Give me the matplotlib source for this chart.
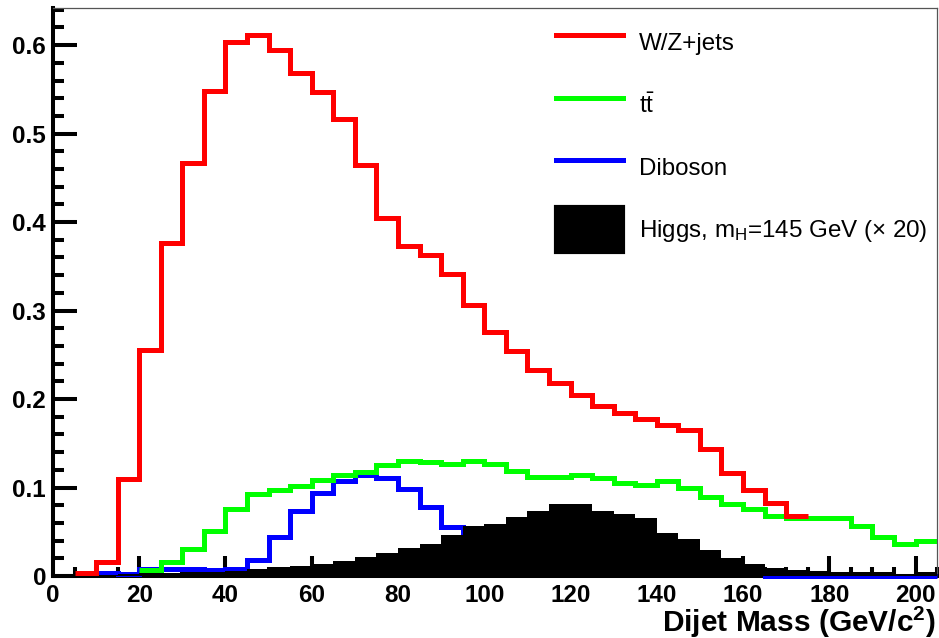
import numpy as np
import matplotlib.pyplot as plt
from matplotlib.lines import Line2D
from matplotlib.patches import Patch

plt.rcParams['font.family'] = ['Liberation Sans', 'DejaVu Sans']
plt.rcParams['mathtext.fontset'] = 'custom'
plt.rcParams['mathtext.rm'] = 'Liberation Sans'
plt.rcParams['mathtext.it'] = 'Liberation Sans:italic'
plt.rcParams['mathtext.bf'] = 'Liberation Sans:bold'

# histogram contents, 5 GeV bins
bin_width = 5

wz_start = 5
wz_jets = [0.003, 0.016, 0.110, 0.255, 0.376, 0.467, 0.548, 0.603, 0.612, 0.594,
           0.569, 0.547, 0.516, 0.464, 0.405, 0.373, 0.363, 0.341, 0.306, 0.276,
           0.254, 0.233, 0.218, 0.204, 0.192, 0.184, 0.178, 0.171, 0.165, 0.144,
           0.116, 0.097, 0.083, 0.068]

ttbar_start = 20
ttbar = [0.007, 0.0155, 0.031, 0.051, 0.076, 0.093, 0.097, 0.102, 0.109, 0.114,
         0.118, 0.125, 0.130, 0.129, 0.127, 0.130, 0.127, 0.119, 0.112, 0.112,
         0.114, 0.111, 0.105, 0.103, 0.107, 0.100, 0.089, 0.081, 0.076, 0.068,
         0.065, 0.066, 0.066, 0.056, 0.044, 0.036, 0.039]

diboson_start = 10
diboson = [0.003, 0.002, 0.008, 0.008, 0.008, 0.007, 0.008, 0.018, 0.044, 0.073,
           0.094, 0.107, 0.114, 0.111, 0.098, 0.078, 0.055, 0.040, 0.030, 0.022,
           0.016, 0.012, 0.009, 0.007, 0.006, 0.005, 0.004, 0.004, 0.003, 0.003,
           0.003, 0.0, 0.0, 0.0, 0.0, 0.0, 0.0, 0.0, 0.0]

higgs_start = 10
higgs = [0.001, 0.002, 0.003, 0.003, 0.004, 0.005, 0.006, 0.008, 0.010, 0.011,
         0.014, 0.017, 0.021, 0.026, 0.032, 0.036, 0.046, 0.057, 0.059, 0.067,
         0.073, 0.081, 0.081, 0.073, 0.070, 0.066, 0.049, 0.042, 0.029, 0.020,
         0.014, 0.009, 0.007, 0.0053, 0.0045, 0.004, 0.004, 0.0024, 0.004]

labels = ["W/Z+jets", "t$\\bar{\\mathrm{t}}$", "Diboson",
          "Higgs, m$_{\\mathrm{H}}$=145 GeV (\u00d7 20)"]

x_ticks = np.arange(0, 201, 20)
x_ticklabels = [str(v) for v in x_ticks]
y_ticks = [0, 0.1, 0.2, 0.3, 0.4, 0.5, 0.6]
y_ticklabels = ["0", "0.1", "0.2", "0.3", "0.4", "0.5", "0.6"]


def edges(start, values):
    return start + bin_width * np.arange(len(values) + 1)


fig = plt.figure(figsize=(9.39, 6.38), dpi=100)
ax = fig.add_axes([0.0564, 0.0972, 0.9416, 0.8903])

lw = 3.6
ax.stairs(diboson, edges(diboson_start, diboson), baseline=None,
          color='#0000ff', lw=lw, zorder=3, clip_on=False)
ax.stairs(higgs, edges(higgs_start, higgs), baseline=0, fill=True,
          color='black', zorder=3.1)
ax.stairs(ttbar, edges(ttbar_start, ttbar), baseline=None,
          color='#00ff00', lw=lw, zorder=3.2)
ax.stairs(wz_jets, edges(wz_start, wz_jets), baseline=None,
          color='#ff0000', lw=lw, zorder=3.3)

ax.set_xlim(0, 205)
ax.set_ylim(0, 0.642)

ax.set_xticks(x_ticks)
ax.set_xticklabels(x_ticklabels)
ax.set_xticks(np.arange(0, 206, 5), minor=True)
ax.set_yticks(y_ticks)
ax.set_yticklabels(y_ticklabels)
ax.set_yticks(np.arange(0, 0.641, 0.02), minor=True)

ax.tick_params(axis='both', which='both', direction='in', width=2.9,
               top=False, right=False)
ax.tick_params(axis='y', which='major', length=17, labelsize=17.5, pad=5)
ax.tick_params(axis='y', which='minor', length=8)
ax.tick_params(axis='x', which='major', length=14.4, labelsize=17.5, pad=6)
ax.tick_params(axis='x', which='minor', length=6.5)
for t in ax.get_xticklabels() + ax.get_yticklabels():
    t.set_fontweight('bold')

for side in ['left', 'bottom']:
    ax.spines[side].set_linewidth(2.9)
    ax.spines[side].set_color('black')
for side in ['top', 'right']:
    ax.spines[side].set_linewidth(0.9)
    ax.spines[side].set_color('#555555')

ax.set_xlabel("Dijet Mass (GeV/c$^{\\mathbf{2}}$)", fontsize=21.5,
              fontweight='bold', loc='right')
ax.xaxis.set_label_coords(0.9985, -0.050)

handles = [Line2D([], [], color='#ff0000', lw=lw),
           Line2D([], [], color='#00ff00', lw=lw),
           Line2D([], [], color='#0000ff', lw=lw),
           Patch(facecolor='black', edgecolor='black', lw=3, joinstyle='round')]
fig.legend(handles, labels, loc='upper left', bbox_to_anchor=(0.592, 0.968),
           bbox_transform=fig.transFigure, frameon=False, fontsize=17.4,
           handlelength=2.77, handleheight=2.488, handletextpad=0.66,
           labelspacing=0.716, borderpad=0, borderaxespad=0)

fig.savefig('out.png', dpi=100)
